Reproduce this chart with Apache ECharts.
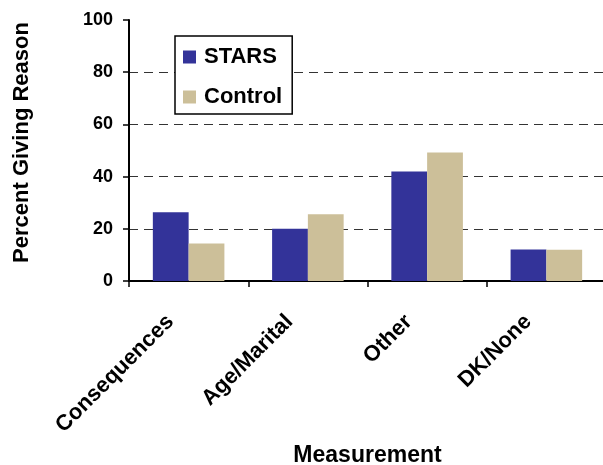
<!DOCTYPE html>
<html>
<head>
<meta charset="utf-8">
<script src="https://cdn.jsdelivr.net/npm/echarts@6/dist/echarts.min.js"></script>
<style>
  html, body { margin: 0; padding: 0; background: #fff; }
  #chart { width: 603px; height: 465px; }
</style>
</head>
<body>
<div id="chart"></div>
<script>
// Reasons given, by group (percent)
const categories = ['Consequences', 'Age/Marital', 'Other', 'DK/None'];
const starsValues = [26.3, 20, 42, 12.1];
const controlValues = [14.4, 25.6, 49.2, 12];
const seriesNames = ['STARS', 'Control'];
const yTicks = { min: 0, max: 100, step: 20 };

const FONT = '"Liberation Sans", Arial, sans-serif';
const chart = echarts.init(document.getElementById('chart'), null, { renderer: 'canvas' });

chart.setOption({
  animation: false,
  backgroundColor: '#ffffff',
  textStyle: { fontFamily: FONT },
  grid: { left: 129, top: 20, right: -3, bottom: 184, containLabel: false, outerBoundsMode: 'none' },
  legend: {
    orient: 'vertical',
    left: 175,
    top: 36,
    data: seriesNames,
    itemWidth: 13,
    itemHeight: 13,
    itemGap: 18,
    icon: 'rect',
    padding: [10, 10, 6, 8],
    backgroundColor: '#ffffff',
    borderColor: '#000000',
    borderWidth: 1.5,
    borderRadius: 0,
    textStyle: { fontFamily: FONT, fontSize: 22, fontWeight: 'bold', color: '#000', lineHeight: 22, padding: [0, 0, 0, 3] }
  },
  xAxis: {
    type: 'category',
    data: categories,
    boundaryGap: true,
    name: 'Measurement',
    nameLocation: 'middle',
    nameGap: 160,
    nameTextStyle: { fontFamily: FONT, fontSize: 23, fontWeight: 'bold', color: '#000' },
    axisLine: { show: true, lineStyle: { color: '#000', width: 2 } },
    axisTick: { show: true, length: 6, lineStyle: { color: '#000', width: 1.5 }, alignWithLabel: false },
    axisLabel: {
      rotate: 45,
      interval: 0,
      margin: 19,
      padding: [0, 26, 0, 0],
      fontFamily: FONT,
      fontSize: 22,
      fontWeight: 'bold',
      color: '#000'
    },
    splitLine: { show: false }
  },
  yAxis: {
    type: 'value',
    min: yTicks.min,
    max: yTicks.max,
    interval: yTicks.step,
    name: 'Percent Giving Reason',
    nameLocation: 'middle',
    nameGap: 96,
    nameTextStyle: { fontFamily: FONT, fontSize: 22, fontWeight: 'bold', color: '#000', padding: [0, 0, 0, 16] },
    axisLine: { show: true, lineStyle: { color: '#000', width: 2 } },
    axisTick: { show: true, inside: false, length: 6, lineStyle: { color: '#000', width: 1.5 } },
    axisLabel: { margin: 16, fontFamily: FONT, fontSize: 18, fontWeight: 'bold', color: '#000' },
    splitLine: {
      show: true,
      lineStyle: {
        // no gridline at the baseline or at the top of the scale
        color: ['rgba(0,0,0,0)', '#333333', '#333333', '#333333', '#333333', 'rgba(0,0,0,0)'],
        width: 1,
        type: [9, 6]
      }
    }
  },
  series: [
    {
      name: seriesNames[0],
      type: 'bar',
      data: starsValues,
      barGap: '0%',
      barCategoryGap: '40%',
      itemStyle: { color: '#333399' }
    },
    {
      name: seriesNames[1],
      type: 'bar',
      data: controlValues,
      barGap: '0%',
      barCategoryGap: '40%',
      itemStyle: { color: '#CCBF99' }
    }
  ]
});
</script>
</body>
</html>
